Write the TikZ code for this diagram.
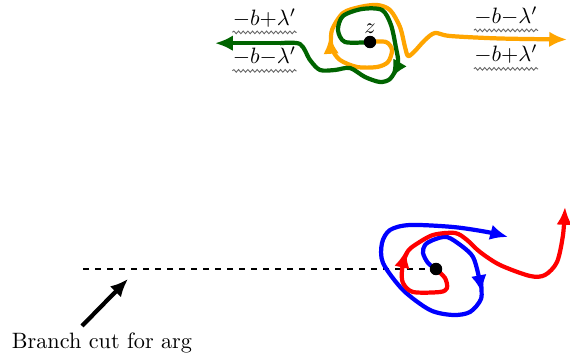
\documentclass[tikz,border=0pt]{standalone}
\usetikzlibrary{arrows.meta,decorations.pathmorphing}
\definecolor{dgreen}{RGB}{0,100,0}
\definecolor{orng}{RGB}{255,165,0}
\begin{document}
\begin{tikzpicture}[x=0.45pt,y=-0.45pt,
  curve/.style={line width=1.9pt, line join=round, -{Latex[length=8pt,width=7pt]}},
  plain/.style={line width=1.9pt, line join=round},
  dot/.style={circle,fill=black,inner sep=0pt,minimum size=5.6pt},
  lab/.style={anchor=base,inner sep=0pt},
  wave/.style={black!60,line width=0.4pt,decorate,decoration={snake,amplitude=0.6pt,segment length=2.1pt}},
  cut/.style={line width=1.2pt,dash pattern=on 2.7pt off 2.7pt}]
\useasboundingbox (0,0) rectangle (570,360);

% ---------- top picture ----------
\coordinate (zc) at (370,42);
\draw[orng,curve] plot[smooth] coordinates {
  (zc) (386,42) (392,50) (388,62) (377,67) (357,67) (340,60) (332,49) (330,36)};
\draw[orng,curve] plot[smooth] coordinates {
  (331,46) (332,30) (343,13) (360,7) (377,5) (390,10) (400,27) (405,47) (408,56)
  (414,52) (425,40) (435,33) (450,36) (500,38.5) (567,39.5)};
\draw[dgreen,curve] plot[smooth] coordinates {
  (zc) (345,42) (338,30) (343,16) (362,9) (382,10) (391,25) (396,48)
  (398,63) (391,78)};
\draw[dgreen,plain] plot[smooth] coordinates {
  (397,68) (390,79) (380,82) (365,77) (350,68) (335,70) (320,70)
  (310,60) (300,44) (280,43.2)};
\draw[dgreen,curve] (280,43.2) -- (215,43.2);
\node[dot] (z) at (zc) {};
\node[lab] (zl) at (370,34) {$z$};

\node[lab] (l1) at (264.5,25.5) {$-b{+}\lambda'$};
\node[lab] (l2) at (264.5,64) {$-b{-}\lambda'$};
\node[lab] (r1) at (506,23.5) {$-b{-}\lambda'$};
\node[lab] (r2) at (506,62) {$-b{+}\lambda'$};
\foreach \n in {l1,l2,r1,r2}
  \draw[wave] ([yshift=-3.1pt]\n.base west) -- ([yshift=-3.1pt]\n.base east);

% ---------- bottom picture ----------
\coordinate (wc) at (436,269);
\coordinate (cutstart) at (83,269);
\draw[cut] (cutstart) -- (wc);
\draw[blue,curve] plot[smooth] coordinates {
  (wc) (428,263) (423,253) (425,245) (433,240) (447,237) (463,247)
  (473,257) (478,273) (482,293)};
\draw[blue,curve] plot[smooth] coordinates {
  (481,283) (481,299) (470,312) (453,315) (430,310)
  (403,290) (383,263) (382,243) (390,230) (410,225) (453,227) (487,232)
  (508,237)};
\draw[red,curve] plot[smooth] coordinates {
  (wc) (445,278) (447,288) (440,292) (413,292) (403,283) (402,270) (406,250)};
\draw[red,curve] plot[smooth] coordinates {
  (404,260) (408,251) (415,245) (433,235) (455,233) (467,240) (480,252) (500,265)
  (530,276) (545,275) (557,262) (563,235) (565,207)};
\node[dot] (w) at (wc) {};

\node[inner sep=0pt] (bc) at (102,343) {Branch cut for arg};
\coordinate (bcarrow) at (82,326);
\coordinate (bctip) at (128,279);
\draw[curve,black] (bcarrow) -- (bctip);
\end{tikzpicture}
\end{document}
